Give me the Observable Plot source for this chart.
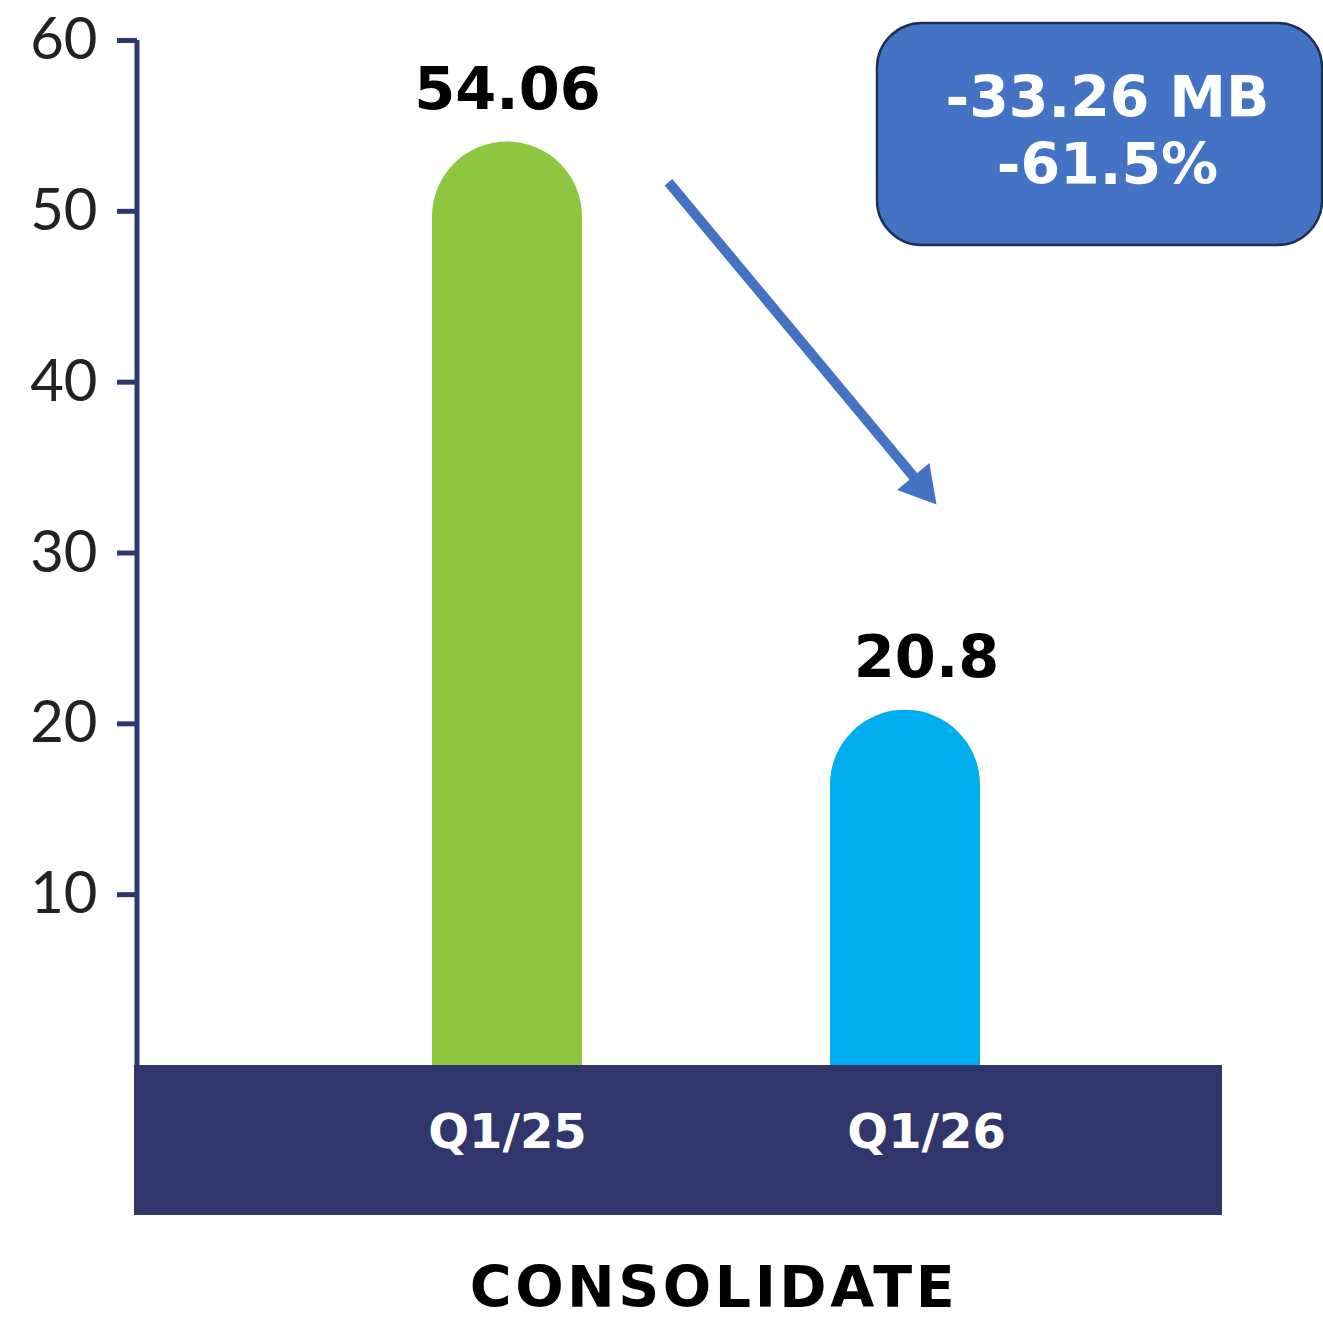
<!DOCTYPE html>
<html>
<head>
<meta charset="utf-8">
<script src="https://cdn.jsdelivr.net/npm/d3@7"></script>
<script src="https://cdn.jsdelivr.net/npm/@observablehq/plot@0.6"></script>
<style>
  html, body { margin: 0; padding: 0; background: #fff; overflow: hidden; }
  #wrap { position: relative; width: 1323px; height: 1318px; }
  #caption {
    position: absolute; left: 714px; top: 1264px; transform: translateX(-50%);
    font-family: "DejaVu Sans", sans-serif; font-weight: bold; font-size: 57px;
    line-height: 46px; letter-spacing: 3.5px; color: #000; white-space: nowrap;
  }
</style>
</head>
<body>
<div id="wrap"><div id="chart"></div><div id="caption">CONSOLIDATE</div></div>
<script>
// ---- data ----
const categories = ["Q1/25", "Q1/26"];
const values = [54.06, 20.8];
const valueLabels = ["54.06", "20.8"];
const barColors = ["#8dc63f", "#00aeef"];
const yTicks = [10, 20, 30, 40, 50, 60];
const changeLabels = ["-33.26 MB", "-61.5%"];

const data = categories.map((c, i) => ({cat: c, i, value: values[i], label: valueLabels[i], color: barColors[i]}));

// ---- layout helpers (scale domains) ----
const xMin = -0.9372, xMax = 1.7965;
const yMin = -8.78, yMax = 60;
const halfBar = 0.1884;
const navy = "#30366b";
const boxBlue = "#4472c4";

const chart = Plot.plot({
  width: 1323,
  height: 1240,
  marginLeft: 134,
  marginRight: 101,
  marginTop: 40,
  marginBottom: 25,
  x: {type: "linear", domain: [xMin, xMax], axis: null},
  y: {domain: [yMin, yMax], axis: null},
  marks: [
    // bars with rounded caps (bottom hidden by the band)
    Plot.rect(data, {
      x1: d => d.i - halfBar, x2: d => d.i + halfBar,
      y1: -5, y2: "value", fill: "color", rx: 75
    }),
    // y axis line
    Plot.ruleX([xMin], {y1: 0, y2: yMax, stroke: "#2e3670", strokeWidth: 5, dx: 2.5}),
    // y axis ticks & labels
    Plot.axisY(yTicks, {
      anchor: "left", label: null, tickSize: 20, tickPadding: 20, dx: 3,
      stroke: "#2e3670", strokeWidth: 5, fontSize: 58, fill: "#222",
      fontFamily: "Lato, sans-serif", tickFormat: d => String(d)
    }),
    // navy category band
    Plot.rect([0], {x1: xMin, x2: xMax, y1: 0, y2: yMin, fill: navy}),
    // category labels
    Plot.text(data, {
      x: d => d.i + (d.i ? 0.053 : 0), y: -3.92, text: "cat",
      fill: "white", fontSize: 48, fontWeight: "bold", fontFamily: "DejaVu Sans, sans-serif"
    }),
    // value labels
    Plot.text(data, {
      x: d => d.i + (d.i ? 0.053 : 0), y: "value", text: "label", dy: -52,
      fill: "black", fontSize: 59, fontWeight: "bold", fontFamily: "DejaVu Sans, sans-serif"
    }),
    // arrow shaft
    Plot.link([0], {x1: 0.4045, y1: 51.70, x2: 1.030, y2: 34.2, stroke: boxBlue, strokeWidth: 10}),
    // arrow head
    Plot.dot([0], {x: 1.039, y: 33.93, symbol: "triangle", r: 15.6, rotate: 140.2, fill: boxBlue, stroke: "none"}),
    // change callout box
    Plot.rect([0], {x1: 0.9296, x2: 2.048, y1: 48.0, y2: 61.0, rx: 45, fill: boxBlue, stroke: "#1f3055", strokeWidth: 2.5, clip: false}),
    Plot.text(changeLabels, {
      x: 1.5075, y: (d, i) => i === 0 ? 56.6 : 52.66, text: d => d,
      fill: "white", fontSize: 57, fontWeight: "bold", fontFamily: "DejaVu Sans, sans-serif"
    })
  ]
});
document.getElementById("chart").appendChild(chart);
</script>
</body>
</html>
